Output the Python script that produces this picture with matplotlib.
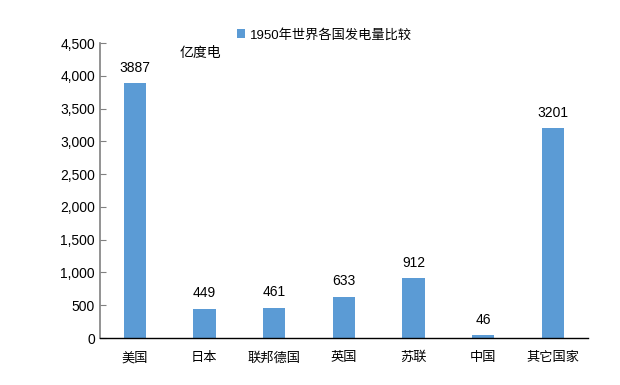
import matplotlib
matplotlib.use("Agg")
import matplotlib.pyplot as plt
from matplotlib.ticker import FuncFormatter

plt.rcParams['font.family'] = ['Liberation Sans', 'Noto Sans CJK SC', 'DejaVu Sans']

countries = ['美国', '日本', '联邦德国', '英国', '苏联', '中国', '其它国家']
power = [3887, 449, 461, 633, 912, 46, 3201]
yticks = [0, 500, 1000, 1500, 2000, 2500, 3000, 3500, 4000, 4500]

bar_color = '#5B9BD5'

fig = plt.figure(figsize=(6.2, 3.85), dpi=100)
ax = fig.add_axes([0.161, 0.122, 0.787, 0.766])

x = list(range(len(countries)))
bars = ax.bar(x, power, width=0.32, color=bar_color, label='1950年世界各国发电量比较')
for xi, v in zip(x, power):
    ax.annotate(str(v), (xi, v), xytext=(0, 6), textcoords='offset points',
                ha='center', va='bottom', fontsize=10)

ax.set_xlim(-0.5, len(countries) - 0.5)
ax.set_ylim(0, 4500)
ax.set_yticks(yticks)
ax.yaxis.set_major_formatter(FuncFormatter(lambda v, p: f'{int(v):,}'))
ax.set_xticks(x)
ax.set_xticklabels(countries, fontsize=9.5)
ax.tick_params(axis='y', labelsize=10, direction='in', length=4, color='#808080')
ax.tick_params(axis='x', length=0, pad=10)

for s in ['top', 'right']:
    ax.spines[s].set_visible(False)
ax.spines['left'].set_color('#808080')
ax.spines['left'].set_linewidth(1.2)
ax.spines['bottom'].set_color('black')
ax.spines['bottom'].set_linewidth(1.0)

ax.legend(loc='upper left', bbox_to_anchor=(0.256, 1.09), frameon=False,
          fontsize=9.5, handlelength=0.6, handleheight=0.6, handletextpad=0.4)
fig.text(0.29, 0.862, '亿度电', fontsize=10, ha='left', va='center')

fig.savefig('out.png', dpi=100)
